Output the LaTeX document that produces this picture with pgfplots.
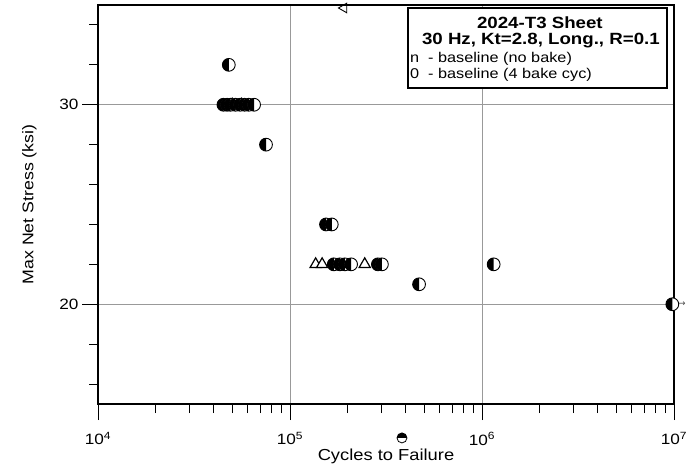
\documentclass[border=0pt]{standalone}
\usepackage{fontspec}
\setmainfont{Liberation Sans}
\newfontfamily\widefont[FakeStretch=1.15]{Liberation Sans}
\newfontfamily\dejavu{DejaVu Sans}
\usepackage{pgfplots}
\pgfplotsset{compat=1.18}
\usetikzlibrary{calc}

% half filled circle: left half black
\pgfdeclareplotmark{halfcirc}{%
  \pgfpathcircle{\pgfpointorigin}{\pgfplotmarksize}%
  \pgfsetfillcolor{white}\pgfusepath{fill}%
  \pgfpathmoveto{\pgfqpoint{0pt}{\pgfplotmarksize}}%
  \pgfpatharc{90}{270}{\pgfplotmarksize}%
  \pgfpathclose
  \pgfsetfillcolor{black}\pgfusepath{fill}%
  \pgfpathcircle{\pgfpointorigin}{\pgfplotmarksize}%
  \pgfusepath{stroke}%
}

\begin{document}
\begin{tikzpicture}
\begin{axis}[
  scale only axis, width=576bp, height=399bp,
  xmode=log, log basis x=10,
  xmin=1e4, xmax=1e7, ymin=15, ymax=35,
  xtick={1e4,1e5,1e6,1e7},
  xticklabels={10\textsuperscript{4},10\textsuperscript{5},10\textsuperscript{6},10\textsuperscript{7}},
  minor xtick={2e4,3e4,4e4,5e4,6e4,7e4,8e4,9e4,2e5,3e5,4e5,5e5,6e5,7e5,8e5,9e5,2e6,3e6,4e6,5e6,6e6,7e6,8e6,9e6},
  ytick={20,30}, minor ytick={16,18,22,24,26,28,32,34},
  xmajorgrids, ymajorgrids,
  major grid style={draw=black!40, line width=0.8bp},
  xtick pos=bottom, ytick pos=left,
  major tick length=16bp, minor tick length=9bp,
  tick style={black, line width=1bp},
  axis line style={line width=1.3bp},
  xticklabel style={font=\widefont\fontsize{15}{17}\selectfont, yshift=-9bp},
  yticklabel style={font=\widefont\fontsize{15}{17}\selectfont},
  /pgf/number format/assume math mode=true,
  xlabel={Cycles to Failure}, ylabel={Max Net Stress (ksi)},
  xlabel style={font=\widefont\fontsize{16}{18}\selectfont, yshift=3bp},
  ylabel style={font=\widefont\fontsize{15.5}{17}\selectfont},
  ylabel shift=16bp,
  clip=false,
  xtick align=outside, ytick align=outside,
]
% open triangles
\addplot[only marks, mark=triangle*, mark size=6.5bp,
  mark options={fill=white, draw=black, line width=1.2bp}] coordinates {
  (50000,30) (56000,30)
  (136000,22) (147000,22) (245000,22)
};
% half filled circles
\addplot[only marks, mark=halfcirc, mark size=6.4bp,
  mark options={draw=black, line width=0.9bp}] coordinates {
  (48000,32)
  (45000,30) (47000,30) (49000,30) (52000,30) (55000,30) (58000,30) (61000,30) (65000,30)
  (75000,28)
  (154000,24) (165000,24)
  (169000,22) (182000,22) (193000,22) (208000,22) (287000,22) (301000,22)
  (470000,21)
  (1150000,22)
  (9800000,20)
};
% off-scale points at the frame
\addplot[only marks, mark=triangle, mark size=5.5bp,
  mark options={rotate=90, draw=black, line width=0.9bp}] coordinates {
  (191000,34.85)
};
\addplot[only marks, mark=halfcirc, mark size=5bp,
  mark options={rotate=-90, draw=black, line width=0.8bp}] coordinates {
  (383000,13.3)
};
\node[anchor=west, inner sep=0pt, font=\dejavu\fontsize{9}{9}\selectfont, text=black!70]
  at (axis cs:1e7,20) [xshift=4bp] {→};
% legend box
\draw[line width=1.3bp, fill=white] (rel axis cs:0.538,0.9925) rectangle (rel axis cs:0.988,0.792);
\node[font=\widefont\bfseries\fontsize{16.3}{18}\selectfont, inner sep=0pt]
  at ($(rel axis cs:0.538,0.9925)+(132bp,-15bp)$) {2024-T3 Sheet};
\node[font=\widefont\bfseries\fontsize{16.3}{18}\selectfont, inner sep=0pt]
  at ($(rel axis cs:0.538,0.9925)+(133bp,-33bp)$) {30 Hz, Kt=2.8, Long., R=0.1};
\node[font=\widefont\fontsize{14.2}{16}\selectfont, inner sep=0pt, anchor=west]
  at ($(rel axis cs:0.538,0.9925)+(2bp,-51bp)$) {n\ \ - baseline (no bake)};
\node[font=\widefont\fontsize{14.2}{16}\selectfont, inner sep=0pt, anchor=west]
  at ($(rel axis cs:0.538,0.9925)+(2bp,-67bp)$) {0\ \ - baseline (4 bake cyc)};
\end{axis}
\pgfresetboundingbox
\path (current axis.south west) ++(-98bp,-67bp) rectangle ++(688bp,471bp);
\end{tikzpicture}
\end{document}
